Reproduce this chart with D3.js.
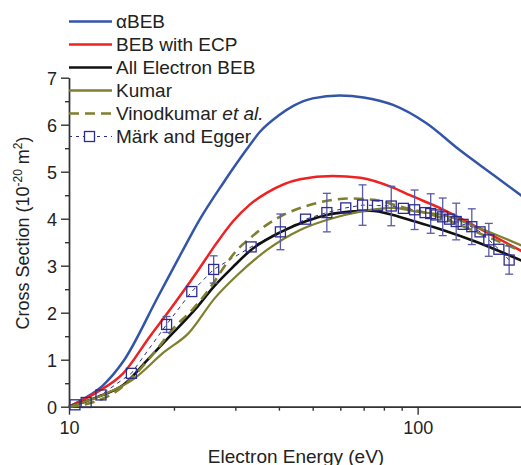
<!DOCTYPE html>
<html>
<head>
<meta charset="utf-8">
<script src="https://cdn.jsdelivr.net/npm/d3@7"></script>
<style>
  body { margin: 0; background: #fff; }
  svg { display: block; font-family: "Liberation Sans", Arial, sans-serif; }
  .axis path, .axis line { stroke: #333; stroke-width: 1.4; }
  .axis text { fill: #222; font-size: 18px; font-family: "Liberation Sans", Arial, sans-serif; }
</style>
</head>
<body>
<svg id="chart"></svg>
<script>
// curve data: energy (eV) and cross section (1e-20 m^2)
let abebE = [10, 11.1, 12.5, 14.3, 18, 21, 23.7, 27.7, 32.3, 35.3, 40, 44, 50, 59.8, 70, 85, 106, 132, 165, 200];
let abebV = [0, 0.18, 0.45, 0.96, 2.34, 3.27, 3.98, 4.76, 5.47, 5.85, 6.2, 6.4, 6.56, 6.62, 6.58, 6.42, 6.03, 5.46, 4.93, 4.47];

let ecpE = [10, 12.1, 14.3, 17, 20, 23.5, 26.5, 29.6, 33, 36.9, 46, 57, 68.5, 85, 95, 118, 147, 200];
let ecpV = [0, 0.32, 0.71, 1.48, 2.18, 2.91, 3.48, 3.95, 4.3, 4.55, 4.84, 4.91, 4.87, 4.66, 4.5, 4.2, 3.83, 3.3];

let aeE = [10, 12.1, 14.3, 17, 20, 23, 26, 29.6, 33.2, 40.6, 48, 54.9, 64, 73, 85, 95, 118, 147, 200];
let aeV = [0, 0.21, 0.46, 1.04, 1.59, 2.07, 2.55, 2.98, 3.33, 3.72, 3.95, 4.08, 4.15, 4.17, 4.08, 3.97, 3.76, 3.51, 3.1];

let kumarE = [10, 12.5, 15.2, 18.8, 22, 26.2, 30.3, 36.9, 46, 57, 68.5, 85, 99, 118, 147, 200];
let kumarV = [0, 0.25, 0.57, 1.17, 1.56, 2.31, 2.79, 3.33, 3.76, 4.01, 4.15, 4.23, 4.15, 4.08, 3.83, 3.42];

let vinodE = [10, 12, 14, 16, 18, 20, 22.5, 25.9, 28, 30.3, 33, 36.9, 42, 49, 57, 64, 75, 89, 118, 147, 200];
let vinodV = [0, 0.12, 0.38, 0.8, 1.25, 1.68, 2.05, 2.62, 3.0, 3.33, 3.58, 3.87, 4.11, 4.29, 4.4, 4.43, 4.4, 4.26, 4.01, 3.72, 3.3];

// experiment: Märk and Egger, with error bars (0 = no bar drawn)
let markE = [10.4, 11.2, 12.35, 15.1, 19.05, 22.5, 26, 33.3, 40.4, 47.7, 54.9, 62.2, 69.5, 76.7, 84, 91, 98, 105, 109, 113, 118, 123.5, 129, 135, 143, 151, 160, 171, 183];
let markV = [0.04, 0.09, 0.25, 0.71, 1.75, 2.45, 2.92, 3.4, 3.72, 3.99, 4.13, 4.23, 4.29, 4.28, 4.27, 4.22, 4.19, 4.13, 4.11, 4.08, 4.04, 3.99, 3.94, 3.88, 3.83, 3.72, 3.55, 3.35, 3.12];
let markErr = [0, 0, 0, 0, 0.17, 0, 0.29, 0, 0.38, 0, 0.41, 0, 0.43, 0, 0.42, 0, 0.42, 0, 0.42, 0, 0.4, 0, 0.39, 0, 0.38, 0, 0.35, 0, 0.3];

let yTicks = [0, 1, 2, 3, 4, 5, 6, 7];
let yMinor = [0.5, 1.5, 2.5, 3.5, 4.5, 5.5, 6.5];
let xTicks = [10, 100];
let xMinor = [20, 30, 40, 50, 60, 70, 80, 90, 200];

let width = 521, height = 465;

let svg = d3.select('#chart')
  .attr('width', width)
  .attr('height', height);

let xScale = d3.scaleLog()
  .domain([10, 200])
  .range([69, 522.6]);

let yScale = d3.scaleLinear()
  .domain([0, 7])
  .range([406.7, 77.7]);

let zip = function(xs, ys) {
  return xs.map(function(x, i) { return {x: x, y: ys[i]}; });
};

let line = d3.line()
  .x(function(d) { return xScale(d.x); })
  .y(function(d) { return yScale(d.y); })
  .curve(d3.curveMonotoneX);

//axes
let xAxis = d3.axisBottom(xScale)
  .tickValues(xTicks)
  .tickFormat(d3.format('d'))
  .tickSize(8)
  .tickSizeOuter(0)
  .tickPadding(4);

let xAxisMinor = d3.axisBottom(xScale)
  .tickValues(xMinor)
  .tickFormat('')
  .tickSize(4)
  .tickSizeOuter(0);

let yAxis = d3.axisLeft(yScale)
  .tickValues(yTicks)
  .tickFormat(d3.format('d'))
  .tickSize(8)
  .tickSizeOuter(0)
  .tickPadding(4);

let yAxisMinor = d3.axisLeft(yScale)
  .tickValues(yMinor)
  .tickFormat('')
  .tickSize(4)
  .tickSizeOuter(0);

svg.append('g').attr('class', 'axis').attr('transform', 'translate(0,' + yScale(0) + ')').call(xAxisMinor);
let gx = svg.append('g').attr('class', 'axis').attr('transform', 'translate(0,' + yScale(0) + ')').call(xAxis);
svg.append('g').attr('class', 'axis').attr('transform', 'translate(' + xScale(10) + ',0)').call(yAxisMinor);
let gy = svg.append('g').attr('class', 'axis').attr('transform', 'translate(' + xScale(10) + ',0)').call(yAxis);

gx.selectAll('text').attr('dy', null).attr('y', 27);
gy.selectAll('text').attr('dy', '0.35em').attr('x', -12);

//axis titles
svg.append('text')
  .attr('x', 296).attr('y', 463)
  .attr('text-anchor', 'middle')
  .attr('font-size', 19).attr('fill', '#222')
  .text('Electron Energy (eV)');

let yTitle = svg.append('text')
  .attr('transform', 'translate(29,233) rotate(-90)')
  .attr('text-anchor', 'middle')
  .attr('font-size', 18).attr('fill', '#222');
yTitle.append('tspan').text('Cross Section (10');
yTitle.append('tspan').attr('font-size', 12).attr('dy', -7).text('-20');
yTitle.append('tspan').attr('dy', 7).text(' m');
yTitle.append('tspan').attr('font-size', 12).attr('dy', -7).text('2');
yTitle.append('tspan').attr('dy', 7).text(')');

//series
let series = [
  {name: 'aBEB', data: zip(abebE, abebV), color: '#3355a8', width: 2.5, dash: null},
  {name: 'ECP', data: zip(ecpE, ecpV), color: '#ee2222', width: 2.5, dash: null},
  {name: 'AE', data: zip(aeE, aeV), color: '#111111', width: 2.6, dash: null},
  {name: 'Kumar', data: zip(kumarE, kumarV), color: '#7f7f2e', width: 2.2, dash: null},
  {name: 'Vinod', data: zip(vinodE, vinodV), color: '#7f7f2e', width: 2.6, dash: '10,6'}
];

let markData = markE.map(function(e, i) { return {x: e, y: markV[i], err: markErr[i]}; });
let markColor = '#2c2c8c';

let plot = svg.append('g');

plot.append('path')
  .datum(markData)
  .attr('fill', 'none')
  .attr('stroke', markColor)
  .attr('stroke-width', 1)
  .attr('stroke-dasharray', '4,4')
  .attr('d', d3.line().x(function(d) { return xScale(d.x); }).y(function(d) { return yScale(d.y); }));

plot.selectAll('.series')
  .data(series)
  .enter().append('path')
  .attr('class', 'series')
  .attr('fill', 'none')
  .attr('stroke', function(d) { return d.color; })
  .attr('stroke-width', function(d) { return d.width; })
  .attr('stroke-dasharray', function(d) { return d.dash; })
  .attr('d', function(d) { return line(d.data); });

let bars = plot.selectAll('.err')
  .data(markData.filter(function(d) { return d.err > 0; }))
  .enter().append('g')
  .attr('class', 'err')
  .attr('stroke', '#5a5aa6')
  .attr('stroke-width', 1.3);

bars.append('line')
  .attr('x1', function(d) { return xScale(d.x); })
  .attr('x2', function(d) { return xScale(d.x); })
  .attr('y1', function(d) { return yScale(d.y - d.err); })
  .attr('y2', function(d) { return yScale(d.y + d.err); });
bars.append('line')
  .attr('x1', function(d) { return xScale(d.x) - 4; })
  .attr('x2', function(d) { return xScale(d.x) + 4; })
  .attr('y1', function(d) { return yScale(d.y + d.err); })
  .attr('y2', function(d) { return yScale(d.y + d.err); });
bars.append('line')
  .attr('x1', function(d) { return xScale(d.x) - 4; })
  .attr('x2', function(d) { return xScale(d.x) + 4; })
  .attr('y1', function(d) { return yScale(d.y - d.err); })
  .attr('y2', function(d) { return yScale(d.y - d.err); });

plot.selectAll('.sq')
  .data(markData)
  .enter().append('rect')
  .attr('class', 'sq')
  .attr('x', function(d) { return xScale(d.x) - 5; })
  .attr('y', function(d) { return yScale(d.y) - 5; })
  .attr('width', 10).attr('height', 10)
  .attr('fill', 'none')
  .attr('stroke', markColor)
  .attr('stroke-width', 1.3);

//legend
let legendItems = [
  {label: 'αBEB', color: '#3355a8', width: 2.5, dash: null},
  {label: 'BEB with ECP', color: '#ee2222', width: 2.5, dash: null},
  {label: 'All Electron BEB', color: '#111111', width: 2.5, dash: null},
  {label: 'Kumar', color: '#7f7f2e', width: 2.5, dash: null},
  {label: 'Vinodkumar', color: '#7f7f2e', width: 2.5, dash: '10,6', italic: 'et al.'},
  {label: 'Märk and Egger', color: markColor, width: 1, dash: '3,4', marker: true}
];

let legend = svg.append('g');
let rows = legend.selectAll('g')
  .data(legendItems)
  .enter().append('g')
  .attr('transform', function(d, i) { return 'translate(0,' + (21.5 + i * 23) + ')'; });

rows.append('line')
  .attr('x1', 69).attr('x2', 112)
  .attr('stroke', function(d) { return d.color; })
  .attr('stroke-width', function(d) { return d.width; })
  .attr('stroke-dasharray', function(d) { return d.dash; });

rows.filter(function(d) { return d.marker; })
  .append('rect')
  .attr('x', 84.5).attr('y', -5).attr('width', 10).attr('height', 10)
  .attr('fill', '#fff').attr('stroke', markColor).attr('stroke-width', 1.3);

let labels = rows.append('text')
  .attr('x', 116).attr('dy', '0.35em')
  .attr('font-size', 19).attr('fill', '#222')
  .text(function(d) { return d.label; });

labels.filter(function(d) { return d.italic; })
  .append('tspan')
  .attr('font-style', 'italic')
  .text(function(d) { return ' ' + d.italic; });
</script>
</body>
</html>
